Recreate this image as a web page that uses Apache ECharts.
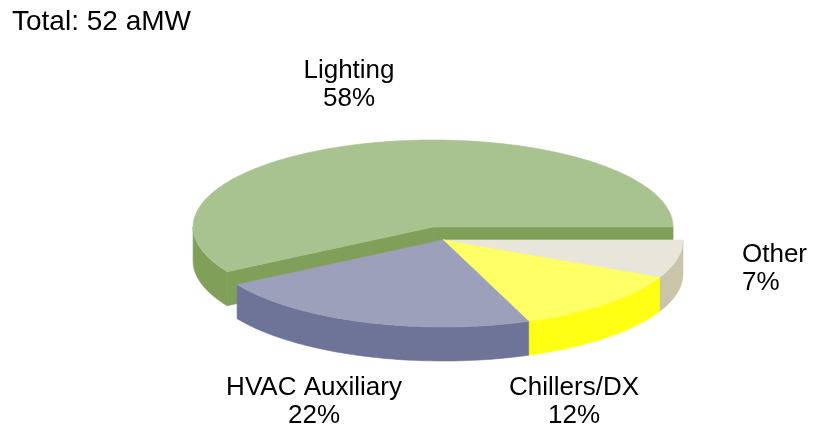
<!DOCTYPE html>
<html>
<head>
<meta charset="utf-8">
<script src="https://cdn.jsdelivr.net/npm/echarts@6/dist/echarts.min.js"></script>
<style>
html, body { margin: 0; padding: 0; background: #fff; }
#chart { width: 822px; height: 433px; }
</style>
</head>
<body>
<div id="chart"></div>
<script>
// 数据
var categories = ['Lighting', 'HVAC Auxiliary', 'Chillers/DX', 'Other'];
var shares = [58, 22, 12, 7];
var totalMW = 52;

// 颜色 (顶面 / 侧面)
var topColors = ['#a8c290', '#9ca0bb', '#ffff66', '#e8e6da'];
var sideColors = ['#80a05a', '#6e7398', '#ffff14', '#c9c5a9'];

// 布局
var cx = 443, cy = 240, rx = 240, ry = 87, depth = 34;
var explodeIdx = 0, explodeK = 0.155;
var labelPos = [[349, 85, 'center'], [314, 402, 'center'], [574, 402, 'center'], [742, 269, 'left']];
var fontFamily = '"Liberation Sans", Arial, sans-serif';

var sum = 0;
for (var i = 0; i < shares.length; i++) sum += shares[i];
var angles = [];
var acc = 0;
for (var i = 0; i < shares.length; i++) {
    angles.push([acc / sum * 360, (acc + shares[i]) / sum * 360]);
    acc += shares[i];
}
// 从后往前画
var order = shares.map(function (v, i) { return i; }).sort(function (a, b) {
    var ma = (angles[a][0] + angles[a][1]) / 2 * Math.PI / 180;
    var mb = (angles[b][0] + angles[b][1]) / 2 * Math.PI / 180;
    return Math.sin(mb) - Math.sin(ma);
});
var rank = [];
order.forEach(function (idx, k) { rank[idx] = k; });

function pt(ox, oy, deg) {
    var r = deg * Math.PI / 180;
    return [ox + rx * Math.cos(r), oy - ry * Math.sin(r)];
}
function poly(points, color, z) {
    return {
        type: 'polygon',
        z2: z,
        shape: { points: points },
        style: { fill: color, stroke: color, lineWidth: 0.6 }
    };
}

function renderSlice(params, api) {
    var i = params.dataIndex;
    var t1 = angles[i][0], t2 = angles[i][1];
    var mid = (t1 + t2) / 2 * Math.PI / 180;
    var ox = cx, oy = cy;
    if (i === explodeIdx) {
        ox += explodeK * rx * Math.cos(mid);
        oy -= explodeK * ry * Math.sin(mid);
    }
    var z = rank[i] * 10;
    var children = [];
    // 切面
    [[t1, t1 - 90], [t2, t2 + 90]].forEach(function (f) {
        if (Math.sin(f[1] * Math.PI / 180) < -1e-6) {
            var p = pt(ox, oy, f[0]);
            children.push(poly([[ox, oy], p, [p[0], p[1] + depth], [ox, oy + depth]], sideColors[i], z + 1));
        }
    });
    // 外侧
    var lo = Math.max(t1, 180), hi = Math.min(t2, 360);
    if (lo < hi) {
        var topArc = [], botArc = [];
        for (var a = lo; a < hi; a += 1) {
            var p = pt(ox, oy, a);
            topArc.push(p);
            botArc.push([p[0], p[1] + depth]);
        }
        var pe = pt(ox, oy, hi);
        topArc.push(pe);
        botArc.push([pe[0], pe[1] + depth]);
        children.push(poly(topArc.concat(botArc.reverse()), sideColors[i], z + 2));
    }
    // 顶面
    var pts = [[ox, oy]];
    for (var a = t1; a < t2; a += 1) pts.push(pt(ox, oy, a));
    pts.push(pt(ox, oy, t2));
    children.push(poly(pts, topColors[i], z + 3));
    return { type: 'group', children: children };
}

var graphics = [{
    type: 'text',
    x: 12, y: 22,
    style: {
        text: 'Total: ' + totalMW + ' aMW',
        fontSize: 28, fontFamily: fontFamily,
        align: 'left', verticalAlign: 'middle', fill: '#000'
    }
}];
categories.forEach(function (c, i) {
    graphics.push({
        type: 'text',
        x: labelPos[i][0], y: labelPos[i][1],
        style: {
            text: c + '\n' + shares[i] + '%',
            fontSize: 26, fontFamily: fontFamily, lineHeight: 28,
            align: labelPos[i][2], verticalAlign: 'middle', fill: '#000'
        }
    });
});

var chart = echarts.init(document.getElementById('chart'));
chart.setOption({
    animation: false,
    backgroundColor: '#fff',
    graphic: graphics,
    series: [{
        type: 'custom',
        coordinateSystem: 'none',
        silent: true,
        renderItem: renderSlice,
        data: shares
    }]
});
window.addEventListener('resize', function () { chart.resize(); });
</script>
</body>
</html>
